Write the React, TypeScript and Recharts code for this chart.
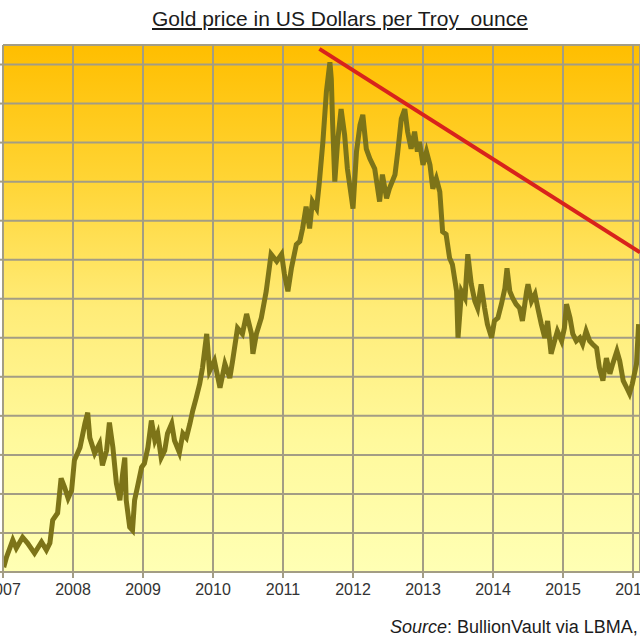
import { LineChart, Line, XAxis, YAxis, CartesianGrid, ReferenceLine } from 'recharts';

// gold price, USD per troy ounce (decimal years)
const years = [
  2007.01, 2007.05, 2007.14, 2007.19, 2007.28, 2007.35, 2007.45, 2007.55, 2007.62, 2007.67,
  2007.71, 2007.78, 2007.83, 2007.88, 2007.93, 2007.98, 2008.02, 2008.1, 2008.17, 2008.21,
  2008.24, 2008.31, 2008.38, 2008.42, 2008.48, 2008.52, 2008.57, 2008.62, 2008.67, 2008.71,
  2008.74, 2008.76, 2008.81, 2008.85, 2008.88, 2008.92, 2008.98, 2009.02, 2009.07, 2009.12,
  2009.17, 2009.21, 2009.26, 2009.31, 2009.35, 2009.41, 2009.45, 2009.52, 2009.57, 2009.62,
  2009.67, 2009.71, 2009.76, 2009.81, 2009.85, 2009.91, 2009.95, 2010.02, 2010.1, 2010.17,
  2010.24, 2010.28, 2010.35, 2010.42, 2010.48, 2010.55, 2010.57, 2010.62, 2010.69, 2010.76,
  2010.83, 2010.91, 2010.98, 2011.02, 2011.07, 2011.12, 2011.19, 2011.24, 2011.28, 2011.33,
  2011.38, 2011.42, 2011.48, 2011.52, 2011.57, 2011.62, 2011.67, 2011.69, 2011.71, 2011.74,
  2011.78, 2011.83, 2011.88, 2011.92, 2011.98, 2012.0, 2012.05, 2012.1, 2012.14, 2012.19,
  2012.24, 2012.31, 2012.38, 2012.42, 2012.48, 2012.52, 2012.6, 2012.64, 2012.69, 2012.74,
  2012.78, 2012.83, 2012.88, 2012.92, 2012.95, 2013.0, 2013.05, 2013.1, 2013.14, 2013.19,
  2013.24, 2013.28, 2013.33, 2013.38, 2013.42, 2013.48, 2013.5, 2013.55, 2013.6, 2013.64,
  2013.69, 2013.74, 2013.78, 2013.83, 2013.88, 2013.92, 2013.98, 2014.02, 2014.07, 2014.12,
  2014.17, 2014.2, 2014.24, 2014.28, 2014.33, 2014.38, 2014.42, 2014.48, 2014.5, 2014.55,
  2014.6, 2014.64, 2014.69, 2014.74, 2014.78, 2014.83, 2014.88, 2014.92, 2014.98, 2015.02,
  2015.05, 2015.1, 2015.14, 2015.19, 2015.24, 2015.28, 2015.33, 2015.38, 2015.42, 2015.48,
  2015.52, 2015.57, 2015.62, 2015.67, 2015.71, 2015.77, 2015.81, 2015.86, 2015.91, 2015.95,
  2015.99, 2016.05, 2016.08,
];

const prices = [
  612, 638, 682, 661, 689, 674, 648, 677, 656, 674,
  733, 751, 840, 817, 789, 809, 886, 919, 980, 1008,
  944, 904, 929, 873, 911, 983, 919, 827, 784, 853,
  893, 784, 715, 707, 784, 817, 868, 878, 919, 988,
  937, 955, 893, 911, 955, 980, 937, 906, 955, 944,
  980, 1013, 1046, 1082, 1123, 1210, 1115, 1141, 1072, 1133,
  1097, 1141, 1225, 1210, 1261, 1210, 1159, 1210, 1251, 1319,
  1414, 1396, 1414, 1363, 1319, 1378, 1439, 1447, 1480, 1536,
  1480, 1549, 1531, 1600, 1702, 1830, 1906, 1863, 1745, 1600,
  1702, 1786, 1720, 1633, 1557, 1531, 1677, 1745, 1771, 1684,
  1659, 1633, 1549, 1618, 1557, 1582, 1618, 1677, 1761, 1786,
  1728, 1684, 1728, 1677, 1702, 1643, 1677, 1643, 1582, 1608,
  1574, 1472, 1465, 1404, 1388, 1319, 1200, 1319, 1302, 1414,
  1337, 1294, 1276, 1337, 1276, 1235, 1200, 1243, 1251, 1286,
  1327, 1378, 1319, 1302, 1286, 1276, 1243, 1319, 1337, 1294,
  1312, 1276, 1235, 1200, 1243, 1159, 1192, 1217, 1192, 1225,
  1286, 1251, 1210, 1192, 1200, 1184, 1217, 1192, 1184, 1174,
  1123, 1090, 1148, 1108, 1133, 1166, 1141, 1090, 1072, 1057,
  1082, 1133, 1235,
];

const yearTicks = [2007, 2008, 2009, 2010, 2011, 2012, 2013, 2014, 2015, 2016];
const priceTicks = [600, 700, 800, 900, 1000, 1100, 1200, 1300, 1400, 1500, 1600, 1700, 1800, 1900];

// the red resistance line drawn from the 2011 high
const trendFrom = { x: 2011.52, y: 1940 };
const trendTo = { x: 2016.1, y: 1419 };

const data = years.map((t, i) => ({ t, price: prices[i] }));

const gridColor = '#a39d84';

// y labels sit outside the cropped picture, only the tick marks show
const NoLabel = () => <g />;

export default function App() {
  return (
    <div
      style={{
        position: 'fixed',
        left: 0,
        top: 0,
        width: 640,
        height: 640,
        overflow: 'hidden',
        background: '#fff',
        fontFamily: '"Liberation Sans", Arial, sans-serif',
      }}
    >
      <div
        style={{
          position: 'absolute',
          left: 152,
          top: 7,
          fontSize: 21,
          lineHeight: '24px',
          color: '#1c1c1c',
          textDecoration: 'underline',
          whiteSpace: 'pre',
        }}
      >
        {'Gold price in US Dollars per Troy  ounce'}
      </div>

      <LineChart width={640} height={640} data={data} margin={{ top: 45, right: 0, bottom: 38, left: 0 }}>
        <defs>
          <linearGradient id="goldBg" x1="0" y1="0" x2="0" y2="1">
            <stop offset="0%" stopColor="#ffbe00" />
            <stop offset="25%" stopColor="#ffd433" />
            <stop offset="50%" stopColor="#ffec78" />
            <stop offset="75%" stopColor="#fff99c" />
            <stop offset="100%" stopColor="#ffffb4" />
          </linearGradient>
        </defs>
        <CartesianGrid stroke={gridColor} strokeWidth={2} fill="url(#goldBg)" fillOpacity={1} />
        <XAxis
          dataKey="t"
          type="number"
          domain={[2007, 2016.1]}
          ticks={yearTicks}
          interval={0}
          allowDataOverflow
          stroke={gridColor}
          strokeWidth={2}
          tickSize={6}
          tickMargin={6}
          tick={{ fill: '#333', fontSize: 16 }}
        />
        <YAxis
          type="number"
          domain={[600, 1950]}
          ticks={priceTicks}
          interval={0}
          width={3}
          tick={NoLabel}
          tickSize={4}
          stroke={gridColor}
          strokeWidth={2}
        />
        <ReferenceLine y={1950} stroke={gridColor} strokeWidth={2} />
        <Line
          type="linear"
          dataKey="price"
          stroke="#7d7418"
          strokeWidth={5}
          dot={false}
          isAnimationActive={false}
        />
        <ReferenceLine
          segment={[trendFrom, trendTo]}
          stroke="#d8231c"
          strokeWidth={4}
          ifOverflow="visible"
        />
      </LineChart>

      <div
        style={{
          position: 'absolute',
          left: 390,
          top: 617,
          fontSize: 18,
          lineHeight: '20px',
          color: '#1c1c1c',
          whiteSpace: 'pre',
        }}
      >
        <i>Source</i>: BullionVault via LBMA,
      </div>
    </div>
  );
}
